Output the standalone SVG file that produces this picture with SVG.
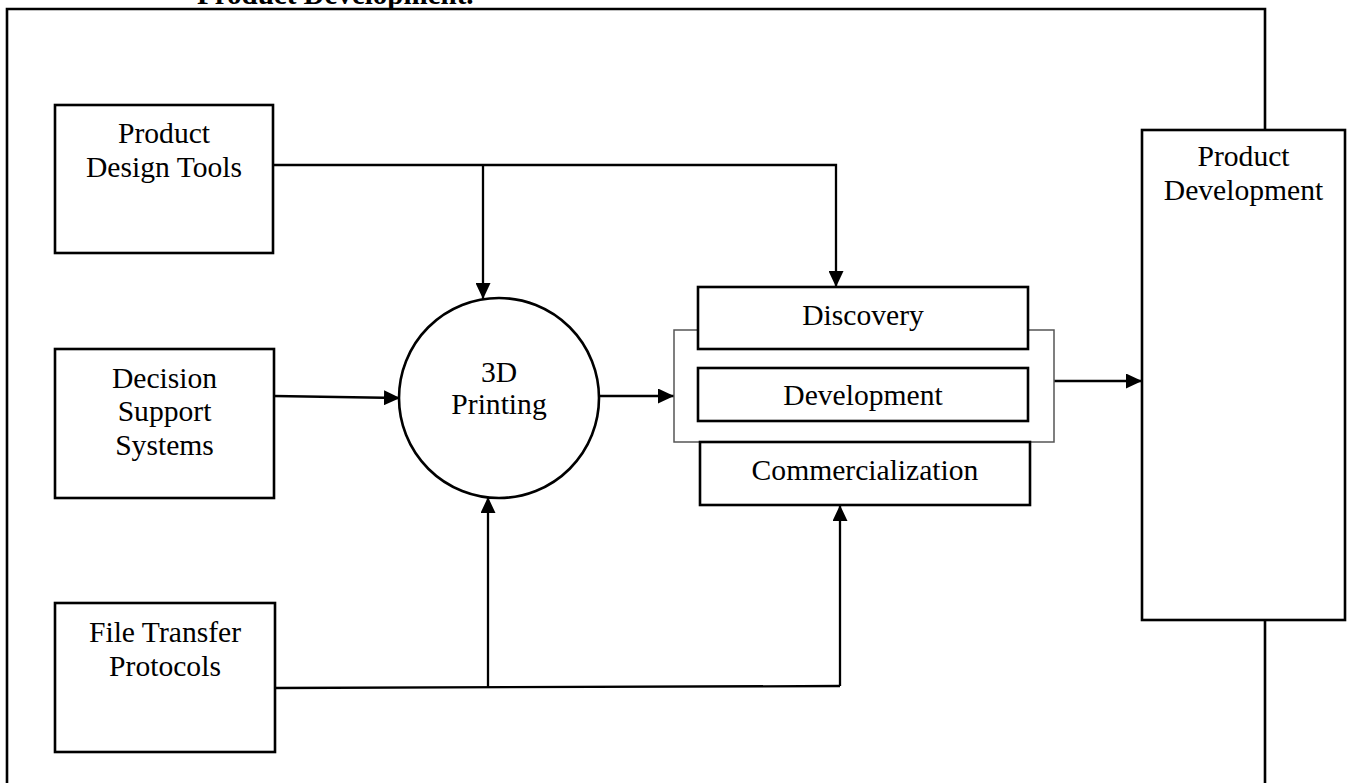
<svg xmlns="http://www.w3.org/2000/svg" width="1351" height="783" viewBox="0 0 1351 783">
<style>
  .box { fill: #fff; stroke: #000; stroke-width: 2.6; }
  .t { font-family: "Liberation Serif", "Times New Roman", serif; font-size: 29.6px; fill: #000; text-anchor: middle; }
  .title { font-family: "Liberation Serif", "Times New Roman", serif; font-size: 29px; font-weight: bold; fill: #000; }
  .frame { fill: none; stroke: #000; stroke-width: 2.6; }
  .conn { fill: none; stroke: #000; stroke-width: 2.3; }
  .bracket { fill: none; stroke: #555; stroke-width: 1.5; }
</style>
<defs>
  <marker id="arrow" markerUnits="userSpaceOnUse" markerWidth="17" markerHeight="15" refX="16" refY="7.5" orient="auto">
    <path d="M0,0 L16,7.5 L0,15 Z" fill="#000"/>
  </marker>
</defs>
<rect width="1351" height="783" fill="#fff"/>
<text class="title" x="197" y="4">Product Development.</text>
<path class="frame" d="M7,783 V9 H1265 V130 M1265,620 V783"/>

<g id="connectors">
  <path class="conn" d="M273,165 H836 V287" marker-end="url(#arrow)"/>
  <path class="conn" d="M483,165 V299" marker-end="url(#arrow)"/>
  <path class="conn" d="M274,396 L400,398" marker-end="url(#arrow)"/>
  <path class="conn" d="M599,396 H674" marker-end="url(#arrow)"/>
  <path class="conn" d="M1054,381 H1142" marker-end="url(#arrow)"/>
  <path class="conn" d="M275,688 L840,686"/>
  <path class="conn" d="M488,687 V497" marker-end="url(#arrow)"/>
  <path class="conn" d="M840,686 V505" marker-end="url(#arrow)"/>
</g>

<g id="product-design-tools">
  <rect class="box" x="55" y="105" width="218" height="148"/>
  <text class="t" x="164" y="143">Product</text>
  <text class="t" x="164" y="177">Design Tools</text>
</g>
<g id="decision-support-systems">
  <rect class="box" x="55" y="349" width="219" height="149"/>
  <text class="t" x="164.5" y="388">Decision</text>
  <text class="t" x="164.5" y="421">Support</text>
  <text class="t" x="164.5" y="455">Systems</text>
</g>
<g id="file-transfer-protocols">
  <rect class="box" x="55" y="603" width="220" height="149"/>
  <text class="t" x="165" y="642">File Transfer</text>
  <text class="t" x="165" y="676">Protocols</text>
</g>
<g id="printing-3d">
  <circle class="box" cx="499" cy="398" r="100"/>
  <text class="t" x="499" y="382">3D</text>
  <text class="t" x="499" y="414">Printing</text>
</g>
<g id="stages">
  <path class="bracket" d="M698,330 H674 V442 H1054 V330 H1028"/>
  <g id="discovery">
    <rect class="box" x="698" y="287" width="330" height="62"/>
    <text class="t" x="863" y="325">Discovery</text>
  </g>
  <g id="development">
    <rect class="box" x="698" y="368" width="330" height="53"/>
    <text class="t" x="863" y="405">Development</text>
  </g>
  <g id="commercialization">
    <rect class="box" x="700" y="442" width="330" height="63"/>
    <text class="t" x="865" y="480">Commercialization</text>
  </g>
</g>
<g id="product-development">
  <rect class="box" x="1142" y="130" width="203" height="490"/>
  <text class="t" x="1243.5" y="166">Product</text>
  <text class="t" x="1243.5" y="200">Development</text>
</g>
</svg>
